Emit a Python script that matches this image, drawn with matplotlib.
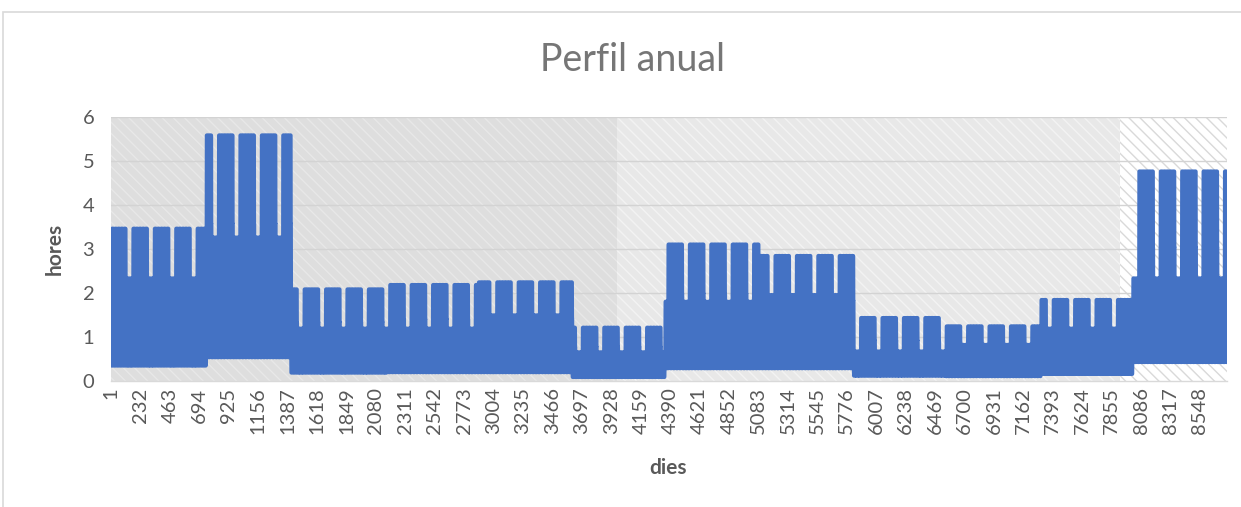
import matplotlib.pyplot as plt
import numpy as np

plt.rcParams['font.family'] = ['Lato', 'DejaVu Sans']
plt.rcParams['path.simplify'] = False
plt.rcParams['hatch.linewidth'] = 1.0

# dies de cada mes (any que comença en dilluns)
month_days = [31, 28, 31, 30, 31, 30, 31, 31, 30, 31, 30, 31]
# nivells per mes: màxim en dia laborable, màxim en cap de setmana, mínim nocturn
peak = [3.45, 5.57, 2.07, 2.17, 2.23, 1.20, 3.09, 2.83, 1.42, 1.23, 1.83, 4.75]
weekend_peak = [2.32, 3.25, 1.18, 1.18, 1.48, 0.64, 1.79, 1.94, 0.66, 0.81, 1.18, 2.32]
base = [0.34, 0.53, 0.18, 0.19, 0.19, 0.08, 0.28, 0.28, 0.11, 0.10, 0.15, 0.42]

# forma horària d'un dia (0 = nivell mínim, 1 = nivell màxim)
workday_shape = [0, 0, 0, 0, 0, 0, 0, 0.6, 1, 1, 1, 1, 1, 1, 1, 1, 1, 1, 0.6, 0.6, 0.3, 0, 0, 0]
weekend_shape = [0, 0, 0, 0, 0, 0, 0, 0, 0.6, 1, 1, 1, 1, 1, 1, 1, 1, 0.6, 0.3, 0, 0, 0, 0, 0]

values = []
day = 0
for m, nd in enumerate(month_days):
    for d in range(nd):
        if day % 7 < 5:
            shape, top = workday_shape, peak[m]
        else:
            shape, top = weekend_shape, weekend_peak[m]
        for s in shape:
            values.append(base[m] + s * (top - base[m]))
        day += 1
values = np.array(values)
hours = np.arange(1, len(values) + 1)

W, H = 1241, 507
fig = plt.figure(figsize=(W / 100, H / 100), dpi=100)
ax = fig.add_axes([111 / W, 1 - 380.5 / H, 1116 / W, 264 / H])

# fons amb tres zones ratllades
bands = [(0.5, 3972, '#dedede', '#e8e8e8'),
         (3972, 7920, '#e8e8e8', '#f3f3f3'),
         (7920, 8760.5, '#ffffff', '#d9d9d9')]
for x0, x1, fc, hc in bands:
    ax.axvspan(x0, x1, facecolor=fc, edgecolor=hc, hatch='\\\\\\', lw=0, zorder=0)

for y in range(1, 7):
    ax.axhline(y, color='#d3d3d3', lw=1, zorder=1)

ax.plot(hours, values, color='#4472C4', lw=3, solid_joinstyle='round',
        solid_capstyle='round', zorder=3)

ax.set_xlim(0.5, 8760.5)
ax.set_ylim(0, 6)
ax.set_xticks(range(1, 8761, 231))
ax.set_yticks(range(0, 7))
ax.tick_params(axis='both', length=0, labelsize=14.5, labelcolor='#595959')
ax.tick_params(axis='x', rotation=90, pad=5)
ax.tick_params(axis='y', pad=12)
for side in ['top', 'right', 'left']:
    ax.spines[side].set_visible(False)
ax.spines['bottom'].set_color('#d9d9d9')
ax.spines['bottom'].set_linewidth(1)
ax.spines['bottom'].set_zorder(4)

fig.text(632 / W, 1 - 60 / H, 'Perfil anual', ha='center', va='center',
         fontsize=27, color='#767676')
fig.text(55 / W, 1 - 249 / H, 'hores', ha='center', va='center', rotation=90,
         fontsize=15, fontweight='bold', color='#595959')
fig.text(668 / W, 1 - 468 / H, 'dies', ha='center', va='center',
         fontsize=15, fontweight='bold', color='#595959')

# vora del gràfic
fig.add_artist(plt.Rectangle((3 / W, -0.1), 2, 1.1 - 12 / H, fill=False,
                             edgecolor='#d9d9d9', lw=1.2, transform=fig.transFigure))

fig.savefig('out.png', dpi=100)
